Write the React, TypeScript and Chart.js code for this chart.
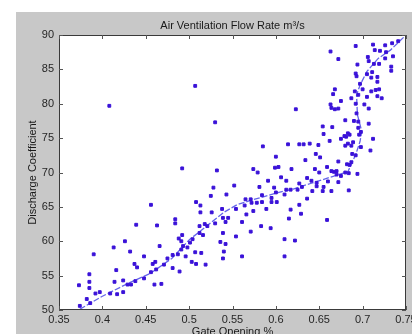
import React, { useEffect, useRef } from 'react';
import { Chart, registerables } from 'chart.js';

Chart.register(...registerables);

const TITLE = 'Air Ventilation Flow Rate m³/s';
const X_LABEL = 'Gate Opening %';
const Y_LABEL = 'Discharge Coefficient';
const xTicks = [0.35, 0.4, 0.45, 0.5, 0.55, 0.6, 0.65, 0.7, 0.75];
const yTicks = [50, 55, 60, 65, 70, 75, 80, 85, 90];

const gateOpening = [
  0.408, 0.507, 0.530, 0.585, 0.614, 0.600, 0.492, 0.532, 0.574, 0.579, 0.599, 0.603, 0.618, 0.623,
  0.663, 0.692, 0.672, 0.712, 0.726, 0.734, 0.741, 0.706, 0.707, 0.714, 0.720, 0.727, 0.726, 0.735,
  0.694, 0.713, 0.719, 0.733, 0.733, 0.692, 0.693, 0.711, 0.710, 0.705, 0.717, 0.697, 0.717, 0.668,
  0.666, 0.691, 0.700, 0.710, 0.715, 0.719, 0.695, 0.687, 0.705, 0.717, 0.722, 0.675, 0.663, 0.664,
  0.668, 0.672, 0.692, 0.702, 0.707, 0.693, 0.680, 0.690, 0.695, 0.707, 0.654, 0.665, 0.695, 0.698,
  0.655, 0.683, 0.685, 0.681, 0.679, 0.696, 0.675, 0.712, 0.662, 0.627, 0.632, 0.639, 0.649, 0.689,
  0.683, 0.680, 0.687, 0.698, 0.709, 0.646, 0.651, 0.688, 0.692, 0.634, 0.672, 0.687, 0.682, 0.685,
  0.659, 0.645, 0.650, 0.664, 0.667, 0.670, 0.680, 0.684, 0.694, 0.606, 0.612, 0.591, 0.598, 0.600,
  0.528, 0.525, 0.552, 0.543, 0.581, 0.584, 0.612, 0.617, 0.610, 0.565, 0.571, 0.572, 0.578, 0.584,
  0.595, 0.595, 0.601, 0.508, 0.513, 0.554, 0.564, 0.589, 0.538, 0.513, 0.526, 0.574, 0.566, 0.539,
  0.545, 0.542, 0.561, 0.615, 0.617, 0.484, 0.484, 0.530, 0.518, 0.512, 0.521, 0.516, 0.512, 0.539,
  0.583, 0.594, 0.571, 0.554, 0.492, 0.488, 0.491, 0.504, 0.501, 0.493, 0.498, 0.491, 0.487, 0.536,
  0.542, 0.540, 0.507, 0.514, 0.496, 0.539, 0.561, 0.610, 0.622, 0.610, 0.503, 0.508, 0.519, 0.489,
  0.670, 0.675, 0.636, 0.641, 0.647, 0.627, 0.630, 0.660, 0.672, 0.647, 0.655, 0.625, 0.642, 0.654,
  0.664, 0.684, 0.636, 0.627, 0.629, 0.659, 0.456, 0.439, 0.463, 0.426, 0.413, 0.466, 0.432, 0.390,
  0.448, 0.475, 0.481, 0.437, 0.440, 0.458, 0.461, 0.471, 0.416, 0.462, 0.481, 0.385, 0.456, 0.448,
  0.438, 0.373, 0.385, 0.385, 0.414, 0.424, 0.429, 0.433, 0.460, 0.468, 0.392, 0.397, 0.409, 0.417,
  0.424, 0.382, 0.386, 0.374,
];

const dischargeCoef = [
  79.7, 82.6, 77.3, 73.8, 74.1, 72.3, 70.6, 70.3, 70.5, 70.0, 70.7, 70.8, 70.5, 79.2,
  87.6, 88.4, 86.5, 88.6, 88.5, 88.8, 89.1, 86.8, 86.2, 87.8, 87.7, 87.5, 86.6, 86.9,
  85.7, 85.8, 85.8, 85.4, 84.8, 84.4, 84.0, 84.6, 83.8, 84.3, 83.9, 82.9, 83.2, 82.1,
  81.4, 81.8, 82.1, 81.8, 82.0, 82.1, 81.3, 80.8, 81.0, 81.1, 80.8, 80.4, 79.9, 79.4,
  79.2, 79.3, 80.0, 79.9, 79.3, 78.6, 77.6, 77.5, 77.4, 77.1, 76.7, 76.6, 76.5, 75.9,
  75.6, 75.7, 75.5, 75.2, 75.3, 75.5, 74.9, 74.9, 74.6, 74.1, 74.1, 74.2, 74.0, 74.4,
  74.2, 73.9, 73.9, 73.7, 73.2, 72.7, 72.2, 72.7, 72.5, 71.8, 71.6, 71.5, 71.2, 71.1,
  70.8, 70.5, 70.0, 70.2, 70.1, 70.2, 70.0, 69.9, 69.8, 69.3, 68.8, 68.8, 67.8, 67.1,
  67.8, 66.6, 68.1, 66.8, 67.9, 66.7, 67.5, 67.5, 66.8, 66.1, 66.1, 65.6, 65.6, 65.7,
  66.3, 65.7, 65.7, 65.7, 65.2, 64.7, 65.2, 64.7, 64.7, 64.2, 64.2, 64.4, 63.9, 63.4,
  63.4, 62.8, 62.8, 63.3, 64.6, 63.2, 62.6, 62.6, 62.5, 62.2, 62.2, 60.9, 61.2, 61.2,
  62.2, 61.9, 61.4, 60.7, 60.9, 60.4, 60.0, 60.3, 59.8, 59.3, 59.1, 58.8, 58.1, 59.9,
  59.6, 58.5, 58.4, 58.3, 57.8, 57.5, 57.8, 60.3, 60.1, 57.8, 57.0, 56.7, 56.6, 55.6,
  69.7, 69.5, 69.2, 68.8, 68.5, 68.4, 67.9, 68.7, 68.6, 68.0, 67.9, 67.5, 67.3, 67.3,
  67.3, 67.4, 66.2, 65.3, 64.0, 63.1, 65.3, 62.4, 62.3, 60.0, 59.1, 59.3, 58.5, 58.1,
  57.8, 57.5, 58.0, 56.7, 56.2, 56.7, 57.0, 56.6, 55.8, 55.9, 56.1, 55.2, 55.5, 54.6,
  54.2, 53.6, 54.1, 53.2, 54.1, 54.3, 53.7, 53.7, 53.7, 53.8, 52.4, 52.6, 52.4, 52.3,
  52.6, 51.6, 51.0, 50.6,
];

const trendGate = [
  0.374, 0.40, 0.43, 0.455, 0.48, 0.50, 0.52, 0.54, 0.555, 0.57, 0.60, 0.62, 0.64, 0.67,
  0.683, 0.692, 0.697, 0.699, 0.694, 0.693, 0.697, 0.705, 0.718, 0.732, 0.75,
];
const trendDischarge = [
  50.1, 52.0, 53.9, 55.3, 57.5, 60.2, 62.2, 64.2, 65.3, 65.9, 67.0, 67.6, 68.4, 69.6,
  70.1, 72.6, 74.5, 76.0, 78.4, 81.3, 82.7, 84.7, 86.6, 87.8, 90.0,
];

const FONT = "'Liberation Sans', Arial, Helvetica, sans-serif";
const FIG_BG = '#c8c8c8';
const MARKER = '#3a12d8';
const TREND = '#6464ea';

const framePlugin = {
  id: 'matlabFrame',
  beforeDraw(chart: any) {
    const { ctx, width, height, chartArea } = chart;
    ctx.save();
    ctx.fillStyle = '#ffffff';
    ctx.fillRect(0, 0, width, height);
    ctx.fillStyle = FIG_BG;
    ctx.fillRect(16, 12, width - 16, height - 12);
    ctx.fillStyle = '#ffffff';
    ctx.fillRect(chartArea.left, chartArea.top, chartArea.right - chartArea.left, chartArea.bottom - chartArea.top);
    ctx.restore();
  },
  afterDraw(chart: any) {
    const { ctx, chartArea } = chart;
    const { left, right, top, bottom } = chartArea;
    const xs = chart.scales.x;
    const ys = chart.scales.y;
    ctx.save();
    ctx.strokeStyle = '#3a3a3a';
    ctx.lineWidth = 1;
    ctx.strokeRect(left + 0.5, top + 0.5, right - left - 1, bottom - top - 1);
    ctx.strokeStyle = '#555555';
    ctx.beginPath();
    const tl = 4;
    xTicks.forEach((v) => {
      const px = Math.round(xs.getPixelForValue(v)) + 0.5;
      ctx.moveTo(px, bottom);
      ctx.lineTo(px, bottom - tl);
      ctx.moveTo(px, top);
      ctx.lineTo(px, top + tl);
    });
    yTicks.forEach((v) => {
      const py = Math.round(ys.getPixelForValue(v)) + 0.5;
      ctx.moveTo(left, py);
      ctx.lineTo(left + tl, py);
      ctx.moveTo(right, py);
      ctx.lineTo(right - tl, py);
    });
    ctx.stroke();

    ctx.fillStyle = '#1a1a1a';
    ctx.font = `11px ${FONT}`;
    ctx.textAlign = 'center';
    ctx.textBaseline = 'alphabetic';
    const cx = (left + right) / 2;
    ctx.fillText(TITLE, cx, 29);
    ctx.fillText(X_LABEL, cx, 335);
    ctx.translate(36, (top + bottom) / 2);
    ctx.rotate(-Math.PI / 2);
    ctx.fillText(Y_LABEL, 0, 0);
    ctx.restore();
  },
};

export default function App() {
  const canvasRef = useRef<HTMLCanvasElement | null>(null);

  useEffect(() => {
    if (!canvasRef.current) return;
    const points = gateOpening.map((g, i) => ({ x: g, y: dischargeCoef[i] }));
    const trend = trendGate.map((g, i) => ({ x: g, y: trendDischarge[i] }));
    const chart = new Chart(canvasRef.current, {
      type: 'scatter',
      data: {
        datasets: [
          {
            label: 'Measured',
            data: points,
            pointStyle: 'rect',
            pointRadius: 2,
            backgroundColor: MARKER,
            borderColor: MARKER,
            borderWidth: 1,
            order: 1,
          },
          {
            label: 'Trend',
            data: trend,
            showLine: true,
            pointRadius: 0,
            borderColor: TREND,
            borderWidth: 1.3,
            borderDash: [6, 2],
            tension: 0,
            order: 2,
          },
        ],
      },
      options: {
        animation: false,
        responsive: true,
        maintainAspectRatio: false,
        layout: { padding: { left: 16, top: 35, right: 6, bottom: 0 } },
        plugins: {
          legend: { display: false },
          tooltip: { enabled: false },
          title: { display: false },
        },
        scales: {
          x: {
            type: 'linear',
            min: 0.35,
            max: 0.75,
            grid: { display: false, drawTicks: false },
            border: { display: false },
            afterBuildTicks: (scale: any) => {
              scale.ticks = xTicks.map((v) => ({ value: v }));
            },
            afterFit: (scale: any) => {
              scale.height = 24;
              scale.paddingLeft = 0;
              scale.paddingRight = 0;
            },
            ticks: {
              padding: 3,
              color: '#262626',
              font: { family: FONT, size: 11 },
              maxRotation: 0,
              autoSkip: false,
              callback: (v: any) => String(v),
            },
          },
          y: {
            type: 'linear',
            min: 50,
            max: 90,
            grid: { display: false, drawTicks: false },
            border: { display: false },
            afterBuildTicks: (scale: any) => {
              scale.ticks = yTicks.map((v) => ({ value: v }));
            },
            afterFit: (scale: any) => {
              scale.width = 43;
              scale.paddingTop = 0;
              scale.paddingBottom = 0;
            },
            ticks: {
              padding: 5,
              color: '#262626',
              font: { family: FONT, size: 11 },
              autoSkip: false,
              callback: (v: any) => String(v),
            },
          },
        },
      },
      plugins: [framePlugin],
    });
    return () => chart.destroy();
  }, []);

  return (
    <div style={{ position: 'fixed', left: 0, top: 0, width: 412, height: 334, background: '#fff' }}>
      <canvas ref={canvasRef} />
    </div>
  );
}
